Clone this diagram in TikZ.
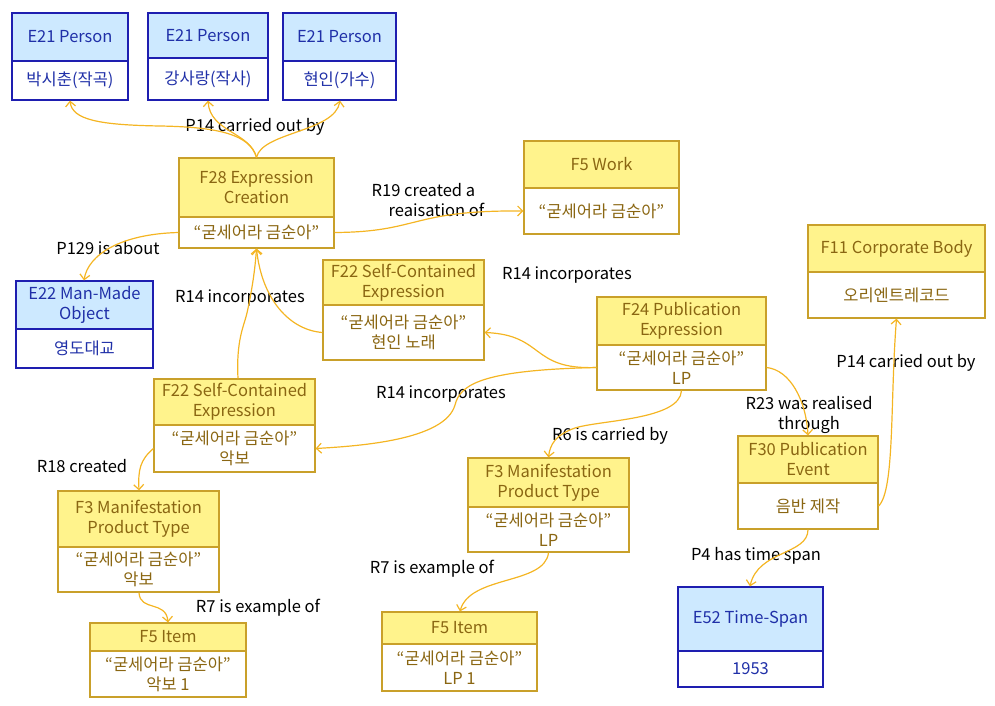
\documentclass[tikz,border=0pt]{standalone}
\usepackage{fontspec}
\setmainfont{Noto Sans CJK KR}
\usetikzlibrary{arrows.meta}
\definecolor{yfill}{HTML}{FFF38C}
\definecolor{ybord}{HTML}{C9A02A}
\definecolor{ytext}{HTML}{8A6612}
\definecolor{bfill}{HTML}{CDE9FF}
\definecolor{bbord}{HTML}{1E1EB0}
\definecolor{btext}{HTML}{2030A8}
\definecolor{lcol}{HTML}{F4B523}
\newcommand\entbox[9]{%
 \pgfmathsetmacro\eBW{#4-#3}\pgfmathsetmacro\eHH{#6-#5}\pgfmathsetmacro\eBH{#7-#6}%
 \pgfmathsetmacro\eCX{(#3+#4)/2}\pgfmathsetmacro\eHY{(#5+#6)/2}\pgfmathsetmacro\eBY{(#6+#7)/2}%
 \node[#2head, minimum width=\eBW pt, minimum height=\eHH pt] (#1-h) at (\eCX,\eHY) {#8};
 \node[#2body, minimum width=\eBW pt, minimum height=\eBH pt] (#1-b) at (\eCX,\eBY) {#9};
}
\tikzset{
 boxbase/.style={inner sep=0pt, line width=1.2pt, align=center, font=\fontsize{16.5}{20}\selectfont},
 yhead/.style={boxbase, draw=ybord, fill=yfill, text=ytext},
 ybody/.style={boxbase, draw=ybord, fill=white, text=ytext},
 bhead/.style={boxbase, draw=bbord, fill=bfill, text=btext},
 bbody/.style={boxbase, draw=bbord, fill=white, text=btext},
 lbl/.style={inner sep=0pt, align=center, font=\fontsize{16.5}{20}\selectfont, text=black},
 conn/.style={draw=lcol, line width=1.2pt, -{Straight Barb[length=5pt,width=10pt]}}
}
\begin{document}
\begin{tikzpicture}[x=1pt,y=-1pt]
\useasboundingbox (0,0) rectangle (995,706);
% boxes
\entbox{P1}{b}{12}{128}{13}{61}{100}{E21 Person}{박시춘(작곡)}
\entbox{P2}{b}{148}{268}{13}{58}{100}{E21 Person}{강사랑(작사)}
\entbox{P3}{b}{283}{396}{13}{61}{100}{E21 Person}{현인(가수)}
\entbox{F28}{y}{179}{334}{158}{217}{248}{F28 Expression\\Creation}{“굳세어라 금순아”}
\entbox{FW}{y}{524}{679}{141}{188}{234}{F5 Work}{“굳세어라 금순아”}
\entbox{E22}{b}{16}{153}{281}{329}{368}{E22 Man-Made\\Object}{영도대교}
\entbox{F22a}{y}{323}{484}{260}{305}{360}{F22 Self-Contained\\Expression}{“굳세어라 금순아”\\현인 노래}
\entbox{F24}{y}{597}{766}{297}{345}{390}{F24 Publication\\Expression}{“굳세어라 금순아”\\LP}
\entbox{F11}{y}{808}{985}{225}{272}{318}{F11 Corporate Body}{오리엔트레코드}
\entbox{F22b}{y}{154}{315}{379}{425}{472}{F22 Self-Contained\\Expression}{“굳세어라 금순아”\\악보}
\entbox{F30}{y}{738}{878}{436}{483}{529}{F30 Publication\\Event}{음반 제작}
\entbox{F3a}{y}{58}{219}{491}{547}{592}{F3 Manifestation\\Product Type}{“굳세어라 금순아”\\악보}
\entbox{F3b}{y}{468}{629}{458}{507}{552}{F3 Manifestation\\Product Type}{“굳세어라 금순아”\\LP}
\entbox{F5a}{y}{90}{246}{623}{651}{697}{F5 Item}{“굳세어라 금순아”\\악보 1}
\entbox{F5b}{y}{382}{537}{612}{644}{691}{F5 Item}{“굳세어라 금순아”\\LP 1}
\entbox{E52}{b}{678}{823}{587}{651}{687}{E52 Time-Span}{1953}
% labels
\node[lbl] (l1) at (255,127) {P14 carried out by};
\node[lbl, align=left] (l2) at (428,200) {R19 created a\\\hspace*{17pt}reaisation of};
\node[lbl] (l3) at (108,248) {P129 is about};
\node[lbl] (l4) at (240,298) {R14 incorporates};
\node[lbl] (l5) at (567,275) {R14 incorporates};
\node[lbl] (l6) at (441,394) {R14 incorporates};
\node[lbl] (l7) at (809,415) {R23 was realised\\through};
\node[lbl] (l8) at (906,363) {P14 carried out by};
\node[lbl] (l9) at (610,436) {R6 is carried by};
\node[lbl] (l10) at (82,466) {R18 created};
\node[lbl] (l11) at (258,608) {R7 is example of};
\node[lbl] (l12) at (432,569) {R7 is example of};
\node[lbl] (l13) at (756,556) {P4 has time span};
% connectors
\draw[conn] (F28-h.north) .. controls (250,135) and (220,127) .. (160,126) .. controls (100,125) and (72,120) .. (P1-b.south -| 70,0);
\draw[conn] (F28-h.north) .. controls (250,132) and (210,132) .. (P2-b.south -| 208,0);
\draw[conn] (F28-h.north) .. controls (262,132) and (335,132) .. (P3-b.south -| 340,0);
\draw[conn] (F28-b.east) .. controls (420,232) and (410,210) .. (FW-b.west);
\draw[conn] (F28-b.west) .. controls (120,234) and (88,255) .. (E22-h.north -| 84,0);
\draw[conn] (F22b-h.north -| 238,0) .. controls (236,340) and (244,326) .. (247,313) .. controls (252,290) and (255,270) .. (F28-b.south);
\draw[conn] (F22a-b.west) .. controls (290,330) and (262,300) .. (F28-b.south);
\draw[conn] (F24-b.west) .. controls (530,370) and (545,335) .. (F22a-b.east);
\draw[conn] (F24-b.west) .. controls (480,370) and (460,385) .. (455,405) .. controls (445,440) and (360,446) .. (F22b-b.east);
\draw[conn] (F24-b.south) .. controls (680,420) and (600,420) .. (575,428) .. controls (555,435) and (550,445) .. (F3b-h.north);
\draw[conn] (F24-b.east) .. controls (790,370) and (806,400) .. (F30-h.north);
\draw[conn] (F30-b.east) .. controls (895,490) and (890,400) .. (F11-b.south);
\draw[conn] (F30-b.south) .. controls (808,555) and (758,550) .. (E52-h.north -| 750,0);
\draw[conn] (F22b-b.west) .. controls (140,460) and (138,470) .. (F3a-h.north -| 139,0);
\draw[conn] (F3a-b.south -| 139,0) .. controls (140,612) and (166,600) .. (F5a-h.north);
\draw[conn] (F3b-b.south) .. controls (545,585) and (470,575) .. (F5b-h.north -| 460,0);
\end{tikzpicture}
\end{document}
